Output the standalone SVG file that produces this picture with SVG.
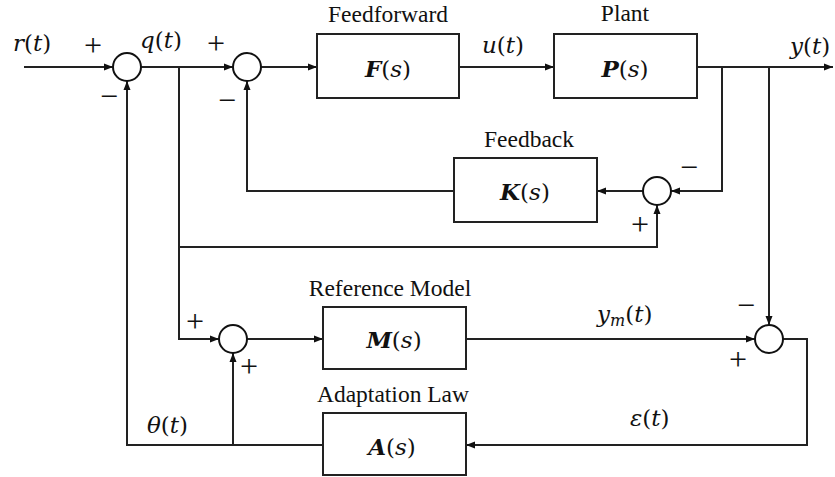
<svg xmlns="http://www.w3.org/2000/svg" width="835" height="477" viewBox="0 0 835 477">
<style>
.lbl{font-size:23.5px;fill:#111;}
.m{font-size:23px;fill:#111;}
.i{font-style:italic;}
.b{font-weight:bold;font-style:italic;}
.sg{font-size:32px;fill:#111;text-anchor:middle;}
.box{fill:#fff;stroke:#222;stroke-width:2;}
.sum{fill:#fff;stroke:#111;stroke-width:2;}
.c{fill:none;stroke:#222;stroke-width:2;}
</style>
<defs>
<marker id="ah" markerWidth="10" markerHeight="8" refX="9" refY="4" orient="auto" markerUnits="userSpaceOnUse">
<path d="M0,0.5 L9,4 L0,7.5 z" fill="#111"/>
</marker>
</defs>
<rect width="835" height="477" fill="#fff"/>
<g id="connectors">
<path class="c" d="M24,67 H113" marker-end="url(#ah)"/>
<path class="c" d="M141,67 H233" marker-end="url(#ah)"/>
<path class="c" d="M261,67 H317" marker-end="url(#ah)"/>
<path class="c" d="M459,67 H554" marker-end="url(#ah)"/>
<path class="c" d="M697,67 H833" marker-end="url(#ah)"/>
<path class="c" d="M722,67 V191 H671" marker-end="url(#ah)"/>
<path class="c" d="M643,191 H597" marker-end="url(#ah)"/>
<path class="c" d="M454,191 H247 V81" marker-end="url(#ah)"/>
<path class="c" d="M179,67 V247 H657 V205" marker-end="url(#ah)"/>
<path class="c" d="M179,247 V339 H219" marker-end="url(#ah)"/>
<path class="c" d="M247,339 H323" marker-end="url(#ah)"/>
<path class="c" d="M466,339 H755" marker-end="url(#ah)"/>
<path class="c" d="M769,67 V325" marker-end="url(#ah)"/>
<path class="c" d="M783,339 H807 V445 H466" marker-end="url(#ah)"/>
<path class="c" d="M323,445 H127 V81" marker-end="url(#ah)"/>
<path class="c" d="M233,445 V353" marker-end="url(#ah)"/>
</g>
<g id="sum1"><circle class="sum" cx="127" cy="67" r="14"/></g>
<g id="sum2"><circle class="sum" cx="247" cy="67" r="14"/></g>
<g id="sum3"><circle class="sum" cx="657" cy="191" r="14"/></g>
<g id="sum4"><circle class="sum" cx="233" cy="339" r="14"/></g>
<g id="sum5"><circle class="sum" cx="769" cy="339" r="14"/></g>
<g font-family="Liberation Serif, Times New Roman, serif">
<g id="feedforward">
<rect class="box" x="317" y="34" width="142" height="64"/>
<text class="lbl" x="388" y="22" text-anchor="middle">Feedforward</text>
<text class="m" x="388" y="77" text-anchor="middle" font-family="DejaVu Serif, serif"><tspan class="b">F</tspan>(<tspan class="i">s</tspan>)</text>
</g>
<g id="plant">
<rect class="box" x="554" y="34" width="143" height="64"/>
<text class="lbl" x="625" y="21" text-anchor="middle">Plant</text>
<text class="m" x="625" y="77" text-anchor="middle" font-family="DejaVu Serif, serif"><tspan class="b">P</tspan>(<tspan class="i">s</tspan>)</text>
</g>
<g id="feedback">
<rect class="box" x="454" y="158" width="143" height="64"/>
<text class="lbl" x="529" y="147" text-anchor="middle">Feedback</text>
<text class="m" x="525" y="200" text-anchor="middle" font-family="DejaVu Serif, serif"><tspan class="b">K</tspan>(<tspan class="i">s</tspan>)</text>
</g>
<g id="reference-model">
<rect class="box" x="323" y="307" width="143" height="62"/>
<text class="lbl" x="390" y="296" text-anchor="middle">Reference Model</text>
<text class="m" x="394" y="348" text-anchor="middle" font-family="DejaVu Serif, serif"><tspan class="b">M</tspan>(<tspan class="i">s</tspan>)</text>
</g>
<g id="adaptation-law">
<rect class="box" x="323" y="413" width="143" height="62"/>
<text class="lbl" x="393" y="402" text-anchor="middle">Adaptation Law</text>
<text class="m" x="392" y="455" text-anchor="middle" font-family="DejaVu Serif, serif"><tspan class="b">A</tspan>(<tspan class="i">s</tspan>)</text>
</g>
<g id="signals" font-family="DejaVu Serif, serif">
<text class="m" x="13" y="51"><tspan class="i">r</tspan>(<tspan class="i">t</tspan>)</text>
<text class="m" x="140" y="48"><tspan class="i">q</tspan>(<tspan class="i">t</tspan>)</text>
<text class="m" x="482" y="53"><tspan class="i">u</tspan>(<tspan class="i">t</tspan>)</text>
<text class="m" x="790" y="54"><tspan class="i">y</tspan>(<tspan class="i">t</tspan>)</text>
<text class="m" x="597" y="322"><tspan class="i">y</tspan><tspan class="i" font-size="16" dy="4">m</tspan><tspan dy="-4">(</tspan><tspan class="i">t</tspan>)</text>
<text class="m" x="630" y="426"><tspan class="i">ε</tspan>(<tspan class="i">t</tspan>)</text>
<text class="m" x="147" y="433"><tspan class="i">θ</tspan>(<tspan class="i">t</tspan>)</text>
</g>
<g id="signs">
<text class="sg" x="93" y="56">+</text>
<text class="sg" x="109" y="107">−</text>
<text class="sg" x="216" y="54">+</text>
<text class="sg" x="227" y="111">−</text>
<text class="sg" x="689" y="178">−</text>
<text class="sg" x="640" y="235">+</text>
<text class="sg" x="195" y="332">+</text>
<text class="sg" x="249" y="377">+</text>
<text class="sg" x="746" y="316">−</text>
<text class="sg" x="738" y="370">+</text>
</g>
</g>
</svg>
